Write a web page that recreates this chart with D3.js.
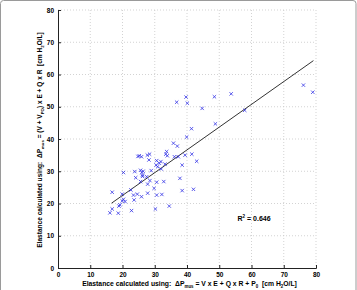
<!DOCTYPE html>
<html><head><meta charset="utf-8">
<script src="https://cdn.jsdelivr.net/npm/d3@7"></script>
<style>body{margin:0;background:#fff}svg{display:block}text{font-family:"Liberation Sans",Arial,sans-serif;font-weight:bold;fill:#000;white-space:pre}</style>
</head><body>
<script>
const xData = [16.1,16.8,16.8,18.7,18.9,19.2,19.9,20.3,20.8,19.9,20.3,22.6,22.8,23.4,23.6,23.8,24.1,24.6,24.8,25.2,25.6,25.6,25.9,25.9,26.0,26.2,26.4,26.2,27.5,27.7,27.8,27.8,28.2,28.4,28.5,28.9,29.8,30.2,30.4,30.6,30.6,30.6,30.9,31.4,31.9,32.0,32.2,32.8,33.2,33.4,33.7,33.9,34.5,35.8,36.1,37.0,37.3,36.8,37.8,38.5,38.5,39.4,39.7,40.1,39.9,41.5,41.4,42.0,43.0,44.7,48.5,48.8,53.7,57.9,76.1,79.0];
const yData = [17.1,18.3,23.5,17.0,19.2,19.6,20.8,21.3,20.6,22.9,29.6,24.2,17.8,22.6,21.1,29.9,28.0,22.9,34.6,34.8,26.8,30.3,34.5,22.1,29.6,28.8,30.0,28.4,28.3,35.0,26.0,23.2,33.5,35.3,27.1,30.2,24.7,18.3,31.9,33.3,26.6,22.6,31.4,32.5,33.0,30.7,22.8,26.8,32.2,35.3,36.1,34.8,19.2,38.7,34.5,37.8,34.5,51.4,27.8,31.9,24.0,35.0,53.0,51.1,40.6,35.3,43.2,24.4,33.1,49.5,53.1,44.7,54.0,48.9,56.7,54.5];
const fitX = [16.6, 79.2];
const fitY = [20.1, 64.3];
const tickValues = [0,10,20,30,40,50,60,70,80];
const r2Label = "0.646";

const W = 357, H = 290;
const svg = d3.select("body").append("svg").attr("width", W).attr("height", H);
svg.append("rect").attr("x",0.5).attr("y",0.5).attr("width",W-1.5).attr("height",H+5)
  .attr("rx",3).attr("fill","none").attr("stroke","#9a9a9a").attr("stroke-width",1);

const L = 58, R = 316, T = 10, B = 268;
const x = d3.scaleLinear().domain([0,80]).range([L,R]);
const y = d3.scaleLinear().domain([0,80]).range([B,T]);

// grid
const g = svg.append("g");
g.selectAll(".gx").data(tickValues.slice(1)).join("line")
  .attr("x1",d=>x(d)).attr("x2",d=>x(d)).attr("y1",T).attr("y2",B)
  .attr("stroke","#c8c8c8").attr("stroke-width",0.8).attr("stroke-dasharray","1,2");
g.selectAll(".gy").data(tickValues.slice(1)).join("line")
  .attr("y1",d=>y(d)).attr("y2",d=>y(d)).attr("x1",L).attr("x2",R)
  .attr("stroke","#c8c8c8").attr("stroke-width",0.8).attr("stroke-dasharray","1,2");

// axes
const xAxis = svg.append("g").attr("transform",`translate(0,${B})`)
  .call(d3.axisBottom(x).tickValues(tickValues).tickSize(-3).tickPadding(4));
const yAxis = svg.append("g").attr("transform",`translate(${L},0)`)
  .call(d3.axisLeft(y).tickValues(tickValues).tickSize(-3).tickPadding(4));
[xAxis,yAxis].forEach(a=>{
  a.select(".domain").attr("stroke","#222").attr("stroke-width",1);
  a.selectAll(".tick line").attr("stroke","#222");
  a.selectAll("text").attr("font-size",6.5).attr("font-weight","bold").attr("font-family","Liberation Sans, Arial, sans-serif").attr("fill","#000");
});

// fit line
svg.append("line").attr("x1",x(fitX[0])).attr("y1",y(fitY[0])).attr("x2",x(fitX[1])).attr("y2",y(fitY[1]))
  .attr("stroke","#333").attr("stroke-width",1);

// markers
const s = 1.7;
const pts = svg.append("g").attr("stroke","#3434e6").attr("stroke-width",0.8);
xData.forEach((v,i)=>{
  const cx = x(v), cy = y(yData[i]);
  pts.append("path").attr("d",`M${cx-s},${cy-s}L${cx+s},${cy+s}M${cx-s},${cy+s}L${cx+s},${cy-s}`);
});

// R2
const r2 = svg.append("text").attr("x",x(60.8)).attr("y",y(15.5)+2.5).attr("text-anchor","middle").attr("font-size",7);
r2.append("tspan").text("R");
r2.append("tspan").attr("font-size",4.5).attr("dy",-3).text("2");
r2.append("tspan").attr("dy",3).text(" = " + r2Label);

function fitText(t, target, base){
  const w = t.node().getBBox().width;
  t.attr("font-size", base*target/w);
}
// x title
const xt = svg.append("text").attr("x",189.5).attr("y",286).attr("text-anchor","middle").attr("font-size",7);
xt.append("tspan").text("Elastance calculated using:  \u0394P");
xt.append("tspan").attr("font-size","0.65em").attr("dy",2).text("mus");
xt.append("tspan").attr("dy",-2).text(" = V x E + Q x R + P");
xt.append("tspan").attr("font-size","0.65em").attr("dy",2).text("0");
xt.append("tspan").attr("dy",-2).text("  [cm H");
xt.append("tspan").attr("font-size","0.65em").attr("dy",2).text("2");
xt.append("tspan").attr("dy",-2).text("O/L]");
fitText(xt, 215, 7);

// y title
const yt = svg.append("text").attr("transform","translate(42,140) rotate(-90)").attr("text-anchor","middle").attr("font-size",7);
yt.append("tspan").text("Elastance calculated using:  \u0394P");
yt.append("tspan").attr("font-size","0.65em").attr("dy",2).text("mus");
yt.append("tspan").attr("dy",-2).text(" = (V + V");
yt.append("tspan").attr("font-size","0.65em").attr("dy",2).text("PO");
yt.append("tspan").attr("dy",-2).text(") x E + Q x R  [cm H");
yt.append("tspan").attr("font-size","0.65em").attr("dy",2).text("2");
yt.append("tspan").attr("dy",-2).text("O/L]");
fitText(yt, 216, 7);
</script>
</body></html>
